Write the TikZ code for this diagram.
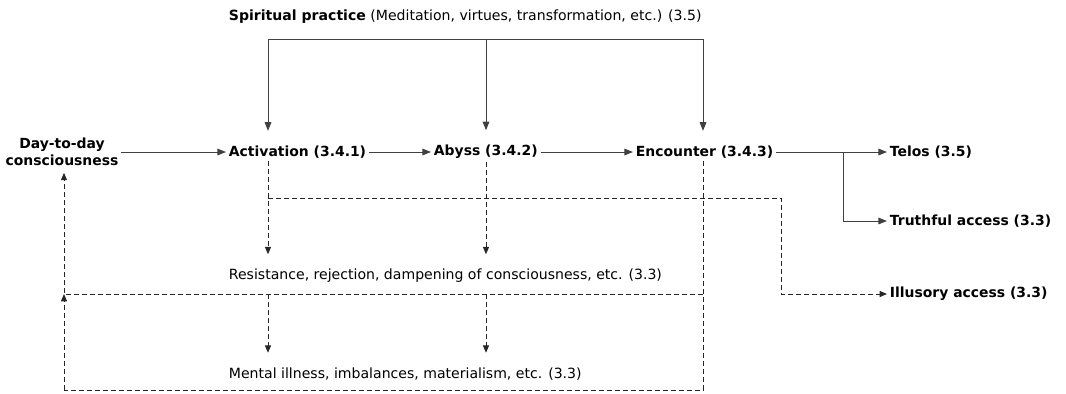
\documentclass[tikz,border=0pt]{standalone}
\usepackage{fontspec}
\setmainfont{DejaVu Sans}
\usetikzlibrary{arrows.meta}

\begin{document}
\begin{tikzpicture}[x=0.75pt,y=-0.75pt,
    every node/.style={inner sep=2pt,font=\fontsize{10.55}{12.75}\selectfont},
    stage/.style={anchor=west,font=\fontsize{10.45}{12.75}\selectfont\bfseries},
    outcome/.style={anchor=west},
    solidline/.style={draw=black!75,line width=0.75pt},
    solidarrow/.style={solidline,-{Triangle[length=6.5pt,width=5pt]}},
    dashline/.style={draw=black!85,line width=0.75pt,dash pattern=on 3.75pt off 2.25pt},
    dasharrow/.style={dashline,-{Triangle[length=5.5pt,width=4.5pt]}},
    gap/.style={shorten >=9pt}]
  \useasboundingbox (0,0) rectangle (1066,393);

  % texts
  \node[anchor=west] (practice) at (226,17) {\textbf{Spiritual practice} (Meditation, virtues, transformation, etc.) (3.5)};
  \node[stage,anchor=center,align=center] (day) at (62,152) {Day-to-day\\consciousness};
  \node[stage] (act) at (226,152) {Activation (3.4.1)};
  \node[stage] (aby) at (431,152) {Abyss (3.4.2)};
  \node[stage] (enc) at (633,152) {Encounter (3.4.3)};
  \node[stage] (telos) at (887,152) {Telos (3.5)};
  \node[stage] (truth) at (887,221) {Truthful access (3.3)};
  \node[stage] (illu) at (887,294) {Illusory access (3.3)};
  \node[outcome] (resist) at (226,276) {Resistance, rejection, dampening of consciousness, etc. (3.3)};
  \node[outcome] (ment) at (226,374) {Mental illness, imbalances, materialism, etc. (3.3)};

  % junctions
  \coordinate (topL) at (268,39);
  \coordinate (topM) at (486,39);
  \coordinate (topR) at (703,39);
  \coordinate (fork) at (843,152);
  \coordinate (illuS) at (268,198);
  \coordinate (illuJ) at (781,198);
  \coordinate (leftJ) at (64,294);
  \coordinate (midR) at (703,294);
  \coordinate (botL) at (64,390);
  \coordinate (botR) at (703,390);

  % spiritual practice
  \draw[solidline] (topL) -- (topR);
  \draw[solidarrow,gap] (topL) -- (topL |- act.north);
  \draw[solidarrow,gap] (topM) -- (topM |- aby.north);
  \draw[solidarrow,gap] (topR) -- (topR |- enc.north);

  % main path
  \draw[solidarrow] (day.east) -- (act.west);
  \draw[solidarrow] (act.east) -- (aby.west);
  \draw[solidarrow] (aby.east) -- (enc.west);
  \draw[solidarrow] (enc.east) -- (telos.west);
  \draw[solidarrow] (fork) |- (truth.west);

  % failures
  \draw[dasharrow,gap] (act.south -| topL) -- (resist.north -| topL);
  \draw[dasharrow,gap] (aby.south -| topM) -- (resist.north -| topM);
  \draw[dasharrow] (illuS) -- (illuJ) |- (illu.west);
  \draw[dashline] (enc.south -| topR) -- (botR) -- (botL);
  \draw[dasharrow] (botL) -- (leftJ);
  \draw[dasharrow,shorten >=3pt] (midR) -- (leftJ) -- (day.south -| leftJ);
  \draw[dasharrow,gap] (leftJ -| topL) -- (ment.north -| topL);
  \draw[dasharrow,gap] (leftJ -| topM) -- (ment.north -| topM);
\end{tikzpicture}
\end{document}
